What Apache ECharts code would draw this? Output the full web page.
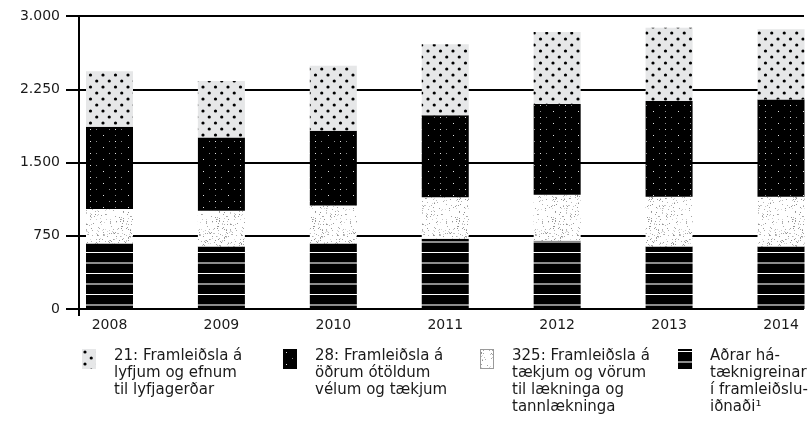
<!DOCTYPE html>
<html><head><meta charset="utf-8">
<script src="https://cdn.jsdelivr.net/npm/echarts@6/dist/echarts.min.js"></script>
<style>html,body{margin:0;padding:0;background:#fff}#c{width:812px;height:422px}</style>
</head><body><div id="c"></div>
<script>
// ---- data ----
const years = ['2008', '2009', '2010', '2011', '2012', '2013', '2014'];
const pharma21 = [570, 580, 665, 725, 735, 750, 720];
const machinery28 = [840, 750, 765, 840, 930, 980, 995];
const medical325 = [355, 365, 390, 425, 470, 510, 510];
const otherHighTech = [670, 640, 670, 720, 700, 640, 640];
const yTickValues = [0, 750, 1500, 2250, 3000];
const yTickLabels = ['0', '750', '1.500', '2.250', '3.000'];
const seriesNames = [
  '21: Framleiðsla á lyfjum og efnum til lyfjagerðar',
  '28: Framleiðsla á öðrum ótöldum vélum og tækjum',
  '325: Framleiðsla á tækjum og vörum til lækninga og tannlækninga',
  'Aðrar hátæknigreinar í framleiðsluiðnaði¹'
];
const legendLabels = [
  '21: Framleiðsla á\nlyfjum og efnum\ntil lyfjagerðar',
  '28: Framleiðsla á\nöðrum ótöldum\nvélum og tækjum',
  '325: Framleiðsla á\ntækjum og vörum\ntil lækninga og\ntannlækninga',
  'Aðrar há-\ntæknigreinar\ní framleiðslu-\niðnaði¹'
];

// ---- patterns ----
function tileCanvas(w, h, draw) {
  const c = document.createElement('canvas');
  c.width = w; c.height = h;
  draw(c.getContext('2d'), w, h);
  return c;
}
const tile21 = tileCanvas(25, 12, (ctx, w, h) => {
  ctx.fillStyle = '#e6e7e8'; ctx.fillRect(0, 0, w, h);
  ctx.fillStyle = '#000';
  [[3, 3], [15.5, 3], [9.25, 9], [21.75, 9]].forEach(([x, y]) => {
    ctx.beginPath(); ctx.arc(x, y, 1.6, 0, Math.PI * 2); ctx.fill();
  });
});
const tile28 = tileCanvas(25, 12, (ctx, w, h) => {
  ctx.fillStyle = '#000'; ctx.fillRect(0, 0, w, h);
  ctx.fillStyle = '#e6e6e6'; ctx.fillRect(3, 3, 1, 1); ctx.fillRect(15, 9, 1, 1);
  ctx.fillStyle = '#8a8a8a'; ctx.fillRect(15, 3, 1, 1); ctx.fillRect(9, 9, 1, 1); ctx.fillRect(21, 9, 1, 1);
});
const tile325 = tileCanvas(48, 48, (ctx, w, h) => {
  ctx.fillStyle = '#fff'; ctx.fillRect(0, 0, w, h);
  let s = 98765;
  const nxt = () => { s = (s * 1103515245 + 12345) & 0x7fffffff; return s / 0x7fffffff; };
  for (let i = 0; i < 240; i++) {
    const x = Math.floor(nxt() * w), y = Math.floor(nxt() * h);
    const g = Math.floor(140 + nxt() * 80);
    ctx.fillStyle = 'rgb(' + g + ',' + g + ',' + g + ')';
    ctx.fillRect(x, y, 1, 1);
  }
});
const tileOther = tileCanvas(8, 21, (ctx, w, h) => {
  ctx.fillStyle = '#000'; ctx.fillRect(0, 0, w, h);
  ctx.fillStyle = '#fff'; ctx.fillRect(0, 0, w, 1);
  ctx.fillStyle = '#8c8c8c'; ctx.fillRect(0, 10, w, 2);
});
const tiles = [tile21, tile28, tile325, tileOther];

const FONT = 'DejaVu Sans';
const TXT = '#1a1a1a';
const LH = 17, ICON_W = 14, ICON_H = 20;
const valuesByKey = [pharma21, machinery28, medical325, otherHighTech];
const stackOrder = [3, 2, 1, 0];
const legendLeft = [82, 283, 480, 678];
const LEGEND_TOP = 348;

// legend icon: pattern square at the top of a box as tall as the label
function legendIcon(k, lines) {
  const h = lines * LH;
  const c = document.createElement('canvas');
  c.width = ICON_W; c.height = h;
  const ctx = c.getContext('2d');
  ctx.save();
  const shift = k === 3 ? 3 : 1;
  ctx.translate(0, shift);
  ctx.fillStyle = ctx.createPattern(tiles[k], 'repeat');
  ctx.fillRect(0, 1 - shift, ICON_W, ICON_H);
  ctx.restore();
  if (k === 2) {
    ctx.strokeStyle = '#9a9a9a'; ctx.lineWidth = 1;
    ctx.strokeRect(0.5, 1.5, ICON_W - 1, ICON_H - 1);
  }
  return 'image://' + c.toDataURL();
}

const chart = echarts.init(document.getElementById('c'), null, { renderer: 'canvas' });
chart.setOption({
  animation: false,
  backgroundColor: '#fff',
  grid: [
    { left: 79, right: 8, top: 16, bottom: 113 },
    { left: 109.5, right: 31, top: 16, bottom: 113 }
  ],
  xAxis: [
    { gridIndex: 0, type: 'value', min: 0, max: 1,
      axisLine: { show: false }, splitLine: { show: false }, axisLabel: { show: false },
      axisTick: { show: true, customValues: [0], length: 7, lineStyle: { color: '#000', width: 2 } } },
    { gridIndex: 1, type: 'category', data: years, boundaryGap: false,
      axisLine: { show: false }, axisTick: { show: false }, splitLine: { show: false },
      axisLabel: { margin: 9, fontFamily: FONT, fontSize: 14, color: TXT } }
  ],
  yAxis: [
    { gridIndex: 0, type: 'value', min: 0, max: 3000, interval: 750,
      axisLine: { show: true, lineStyle: { color: '#000', width: 2 } },
      axisTick: { show: true, length: 13, lineStyle: { color: '#000', width: 2 } },
      splitLine: { show: true, lineStyle: { color: '#000', width: 2 } },
      axisLabel: { margin: 19, fontFamily: FONT, fontSize: 14, color: TXT,
        formatter: v => yTickLabels[yTickValues.indexOf(v)] } },
    { gridIndex: 1, type: 'value', min: 0, max: 3000, interval: 750, show: false }
  ],
  legend: [0, 1, 2, 3].map(k => {
    const lines = legendLabels[k].split('\n').length;
    return {
      data: [{ name: seriesNames[k], icon: legendIcon(k, lines) }],
      left: legendLeft[k], top: LEGEND_TOP,
      padding: 0, itemWidth: ICON_W, itemHeight: lines * LH, selectedMode: false,
      formatter: () => legendLabels[k],
      textStyle: { fontFamily: FONT, fontSize: 15, lineHeight: LH, color: TXT, padding: [0, 0, 0, 13] }
    };
  }),
  series: stackOrder.map(k => ({
    type: 'bar', name: seriesNames[k], xAxisIndex: 1, yAxisIndex: 1, stack: 'total',
    barWidth: 47, clip: false, data: valuesByKey[k],
    itemStyle: { color: { image: tiles[k], repeat: 'repeat' } },
    emphasis: { disabled: true }
  }))
});
</script></body></html>
